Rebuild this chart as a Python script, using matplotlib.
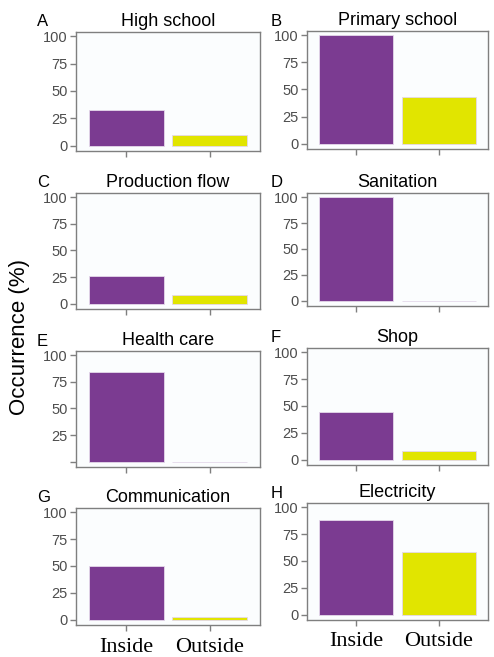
import matplotlib
matplotlib.use("Agg")
import matplotlib.pyplot as plt

# data
panel_letters = ["A", "B", "C", "D", "E", "F", "G", "H"]
panel_titles = ["High school", "Primary school", "Production flow", "Sanitation",
                "Health care", "Shop", "Communication", "Electricity"]
categories = ["Inside", "Outside"]
inside_pct = [33, 100, 26, 100, 84, 44, 50, 88]
outside_pct = [10, 43, 8, 0, 0, 8, 2, 58]
y_ticks = [0, 25, 50, 75, 100]

PURPLE = "#7b3b91"
YELLOW = "#e1e500"
GREY = "#7f7f7f"

W, H = 494, 657
# axes boxes in pixels: (left, top, right, bottom)
boxes = [
    (76, 32, 260, 151), (307, 31, 488, 149),
    (76, 193, 260, 309), (307, 193, 488, 306),
    (76, 351, 260, 467), (307, 348, 488, 465),
    (76, 508, 260, 625), (307, 503, 488, 620),
]

fig = plt.figure(figsize=(W / 100, H / 100), dpi=100)
fig.patch.set_facecolor("white")
plt.rcParams["font.family"] = ["Liberation Sans", "DejaVu Sans"]

for i, (l, t, r, b) in enumerate(boxes):
    ax = fig.add_axes([l / W, 1 - b / H, (r - l) / W, (b - t) / H])
    ax.set_facecolor("#fbfdfe")
    ax.bar(categories, [inside_pct[i], outside_pct[i]], width=0.9,
           color=[PURPLE, YELLOW], edgecolor="#e4d8ea", linewidth=0.6)
    ax.set_xlim(-0.6, 1.6)
    ax.set_ylim(-5, 104)
    ax.set_yticks(y_ticks)
    labels = [str(v) for v in y_ticks]
    if panel_letters[i] == "E":
        labels[0] = ""
    ax.set_yticklabels(labels)
    for s in ax.spines.values():
        s.set_color(GREY)
        s.set_linewidth(1.0)
    ax.tick_params(axis="both", colors=GREY, length=4, width=1.0,
                   labelcolor="#4d4d4d", labelsize=10.5, pad=2)
    if i >= 6:
        ax.set_xticklabels(categories, fontfamily="Liberation Serif",
                           fontsize=16, color="black")
        ax.tick_params(axis="x", pad=5)
    else:
        ax.set_xticklabels(["", ""])
    ax.set_title(panel_titles[i], fontsize=13, color="black", pad=4)
    lx = 37 if i % 2 == 0 else 271
    fig.text(lx / W, 1 - (t - 10) / H, panel_letters[i], fontsize=12,
             ha="left", va="center", color="black")

fig.text(19 / W, 1 - 337 / H, "Occurrence (%)", rotation=90, fontsize=16,
         ha="center", va="center", color="black")

fig.savefig("out.png", dpi=100)
